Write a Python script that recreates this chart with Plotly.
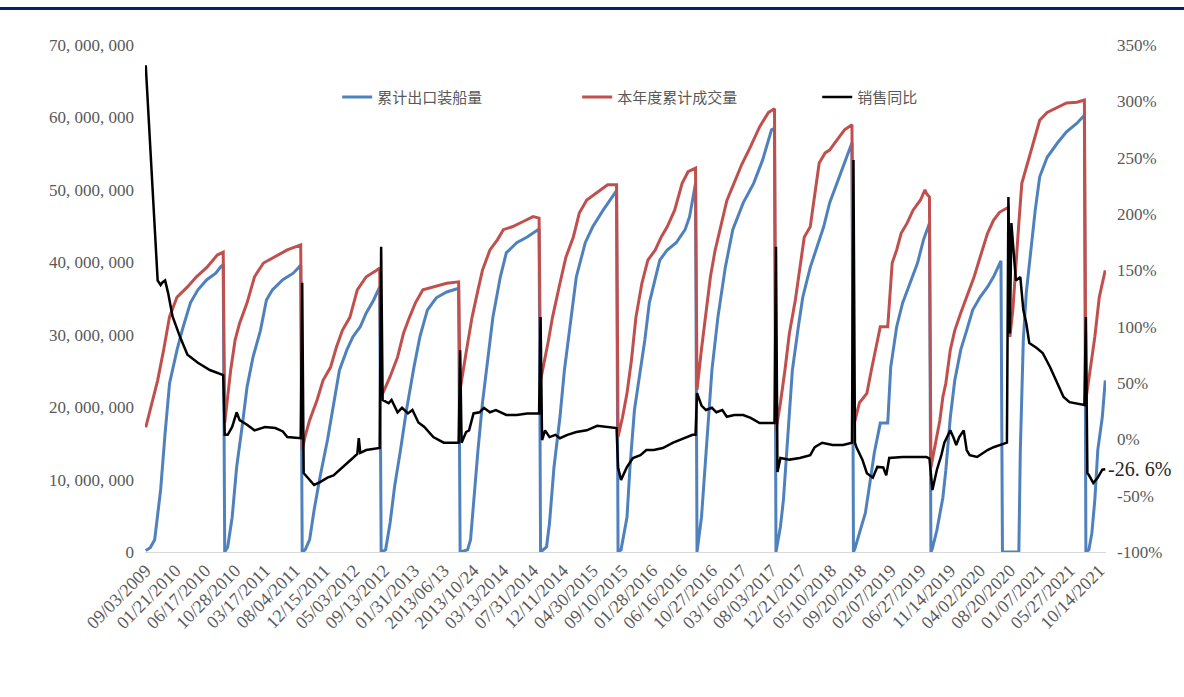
import plotly.graph_objects as go

# ---------------- data ----------------
x_labels = ["09/03/2009", "01/21/2010", "06/17/2010", "10/28/2010", "03/17/2011", "08/04/2011",
            "12/15/2011", "05/03/2012", "09/13/2012", "01/31/2013", "2013/06/13", "2013/10/24",
            "03/13/2014", "07/31/2014", "12/11/2014", "04/30/2015", "09/10/2015", "01/28/2016",
            "06/16/2016", "10/27/2016", "03/16/2017", "08/03/2017", "12/21/2017", "05/10/2018",
            "09/20/2018", "02/07/2019", "06/27/2019", "11/14/2019", "04/02/2020", "08/20/2020",
            "01/07/2021", "05/27/2021", "10/14/2021"]
label_pos = [i * 20 for i in range(len(x_labels))]   # category index of each labelled week

# 累计出口装船量 (million tonnes), sampled weeks (category index)
blue_week = [0, 3, 6, 10, 13, 16, 21, 25, 30, 35, 41, 47, 50, 52,
             53, 55, 58, 61, 65, 68, 72, 77, 81, 85, 92, 99, 104,
             105, 107, 110, 113, 117, 122, 126, 130, 135, 139, 144, 148, 153, 157,
             158, 161, 164, 167, 171, 175, 180, 184, 189, 195, 202, 210,
             211, 216, 218, 220, 223, 226, 230, 233, 238, 242, 249, 256, 264,
             265, 269, 271, 274, 278, 281, 285, 289, 295, 300, 307, 315, 316,
             317, 319, 323, 325, 328, 332, 335, 338, 342, 345, 350, 356, 362, 365, 369,
             370, 373, 377, 380, 384, 389, 394, 401, 408, 414, 420, 422,
             423, 424, 426, 428, 431, 434, 438, 441, 446, 450, 455, 459, 464, 468, 474,
             475, 476, 479, 483, 486, 489, 493, 498, 500, 504, 508, 513, 518, 522, 526,
             527, 528, 531, 535, 537, 540, 543, 547, 551, 555, 560, 565, 569, 573, 574,
             575, 586,
             587, 588, 589, 591, 594, 597, 600, 605, 612, 618, 625, 630,
             631, 633, 635, 637, 639, 642, 644]
blue_mt = [0.2, 0.6, 1.7, 8.6, 16.4, 23.3, 27.9, 31.0, 34.4, 36.2, 37.6, 38.5, 39.3, 39.7,
           0.0, 0.7, 4.8, 11.7, 17.8, 22.8, 26.9, 30.6, 34.8, 36.2, 37.6, 38.5, 39.6,
           0.0, 0.3, 1.7, 5.8, 10.4, 15.5, 20.6, 25.1, 27.9, 29.7, 31.1, 33.0, 34.8, 36.6,
           0.0, 0.3, 4.0, 9.0, 14.1, 19.6, 25.5, 29.7, 33.4, 35.1, 35.9, 36.4,
           0.0, 0.3, 1.7, 6.8, 14.1, 20.6, 26.9, 32.4, 38.0, 41.3, 42.7, 43.5, 44.6,
           0.0, 0.7, 4.0, 11.7, 18.6, 25.1, 31.6, 38.0, 42.7, 44.9, 47.2, 49.6, 49.9,
           0.0, 0.3, 4.8, 11.7, 19.6, 25.1, 29.3, 34.4, 38.0, 40.3, 41.7, 42.7, 44.5, 46.3, 50.9,
           0.0, 4.8, 16.4, 25.1, 32.4, 39.3, 44.5, 48.2, 50.9, 54.1, 58.3, 58.5,
           0.0, 1.0, 3.5, 7.2, 16.4, 25.1, 31.1, 35.2, 39.3, 41.7, 44.9, 48.2, 50.9, 53.2, 56.5,
           0.0, 0.5, 2.6, 5.4, 9.5, 13.7, 17.8, 17.8, 25.5, 31.1, 34.4, 37.1, 39.9, 43.1, 45.4,
           0.0, 0.5, 3.0, 7.5, 11.3, 18.6, 23.7, 27.9, 30.6, 33.4, 35.2, 36.6, 38.0, 39.9, 40.2,
           0.0, 0.0,
           14.1, 23.3, 29.3, 35.8, 41.7, 47.2, 51.8, 54.5, 56.5, 58.0, 59.2, 60.3,
           0.0, 0.3, 2.6, 7.2, 14.1, 18.6, 23.7]

# 本年度累计成交量 (million tonnes)
red_week = [0, 4, 8, 12, 16, 21, 28, 34, 41, 48, 52,
            53, 55, 57, 60, 63, 68, 73, 79, 86, 95, 104,
            105, 107, 110, 115, 119, 124, 128, 132, 137, 142, 148, 155, 157,
            158, 164, 169, 173, 177, 181, 186, 193, 202, 210,
            211, 215, 219, 223, 226, 231, 236, 240, 246, 253, 260, 264,
            265, 270, 273, 278, 282, 287, 291, 296, 303, 310, 316,
            317, 320, 323, 326, 329, 333, 337, 342, 346, 350, 355, 360, 364, 369,
            370, 373, 376, 379, 382, 386, 390, 395, 400, 406, 412, 418, 422,
            423, 426, 429, 432, 436, 439, 442, 446, 449, 452, 456, 459, 464, 469, 474,
            475, 479, 484, 487, 491, 493, 498, 501, 504, 507, 511, 515, 520, 523, 524, 526,
            527, 531, 533, 535, 537, 540, 543, 547, 551, 556, 560, 565, 569, 573, 579,
            580, 582, 584, 586, 588, 592, 596, 600, 605, 612, 618, 625, 630,
            631, 634, 637, 640, 644]
red_mt = [17.2, 20.6, 23.7, 27.9, 32.5, 35.2, 36.6, 38.0, 39.3, 41.0, 41.4,
          17.8, 21.5, 25.1, 29.3, 31.6, 34.4, 38.0, 39.9, 40.7, 41.7, 42.4,
          14.1, 16.0, 18.2, 21.0, 23.7, 25.5, 28.3, 30.6, 32.4, 36.2, 38.0, 38.9, 39.2,
          21.4, 24.2, 26.9, 30.2, 32.4, 34.4, 36.2, 36.6, 37.1, 37.3,
          22.4, 27.5, 32.4, 36.2, 38.9, 41.7, 43.1, 44.5, 44.9, 45.6, 46.3, 46.1,
          23.7, 28.9, 32.4, 37.1, 40.7, 43.5, 46.8, 48.6, 49.6, 50.7, 50.7,
          15.9, 18.6, 21.9, 26.5, 32.4, 37.1, 40.3, 41.7, 43.5, 44.9, 47.2, 50.9, 52.5, 53.0,
          22.4, 28.0, 33.0, 38.0, 41.5, 45.0, 48.5, 51.0, 53.5, 56.0, 58.7, 60.7, 61.2,
          16.8, 20.6, 25.1, 30.2, 34.8, 39.3, 43.5, 44.9, 49.6, 53.7, 55.1, 55.5, 56.9, 58.3, 59.0,
          17.3, 20.6, 21.9, 25.1, 28.9, 31.1, 31.1, 39.9, 41.7, 44.0, 45.4, 47.2, 48.6, 50.0, 49.5, 49.0,
          11.7, 16.4, 18.2, 21.4, 23.3, 27.9, 30.6, 33.0, 35.2, 38.0, 40.7, 44.0, 45.8, 46.9, 47.6,
          29.7, 33.5, 40.0, 45.4, 50.9, 53.7, 56.5, 59.6, 60.7, 61.4, 62.0, 62.1, 62.4,
          21.0, 25.1, 29.7, 35.2, 38.9]

# 销售同比 (%)
yoy_week = [0, 2, 4, 6, 8, 10, 11, 13, 15, 18, 23, 28, 35, 43, 52,
            53, 55, 58, 61, 63, 68, 73, 80, 87, 92, 95, 104,
            105, 106, 108, 113, 117, 122, 126, 130, 135, 139, 142, 143, 144, 148, 157,
            158, 159, 163, 165, 169, 172, 176, 179, 183, 187, 193, 200, 210,
            211, 212, 215, 217, 220, 224, 227, 231, 235, 242, 249, 256, 264,
            265, 266, 268, 271, 275, 278, 283, 289, 296, 303, 310, 316,
            317, 319, 323, 327, 332, 336, 341, 347, 354, 361, 367, 369,
            370, 373, 376, 380, 383, 387, 390, 395, 401, 406, 412, 422,
            423, 424, 426, 432, 439, 446, 449, 454, 461, 468, 474,
            475, 476, 477, 481, 484, 488, 491, 495, 497, 499, 508, 515, 524, 526,
            527, 528, 531, 534, 536, 540, 542, 544, 546, 549, 551, 553, 558, 565, 569, 573, 578,
            579, 580, 581, 584, 587, 589, 591, 593, 598, 602, 607, 612, 616, 620, 625, 630,
            631, 632, 633, 636, 639, 642, 644]
yoy_pct = [332, 286, 233, 183, 141, 137, 139, 141, 130, 109, 91, 75, 68, 61.5, 57,
           4, 4, 11, 24, 17, 13, 8, 11, 10, 7, 2, 1,
           139, -30, -33, -40.5, -38, -34, -32, -27, -21, -16.6, -13, 1, -12, -9.5, -7.7,
           171, 35, 32, 35, 24, 28, 23, 26, 15, 11, 2, -3, -3,
           79, -3, 6.5, 8, 23, 24, 28, 24, 26, 21.6, 21.6, 23, 23,
           108.6, -0.6, 8, 2, 4, 1, 4, 6.5, 8, 12, 11, 10,
           -25, -36, -24.5, -16.6, -14, -9.5, -9.5, -7.7, -3, 1, 4, 4,
           41, 30, 26, 28, 24, 26, 20, 21.6, 21.6, 19, 14.5, 14.5,
           171, -29, -16.6, -18, -16.6, -14, -7, -3, -5, -5, -3,
           248, -3, -7, -18, -30, -34, -24.5, -25, -32, -16.6, -15.7, -15.7, -15.7, -17,
           -30, -45, -27, -14, -3, 8, 2, -5, 2, 8, -9.5, -14, -15.7, -9.5, -7, -5, -3,
           215, 94, 192, 141, 144, 115, 103, 85.5, 81, 76.6, 64, 50, 37.6, 33, 32, 30.5,
           108.6, -30, -31.7, -38.8, -34, -27, -26.6]

left_ticks = [i * 10_000_000 for i in range(8)]
right_ticks = [-100, -50, 0, 50, 100, 150, 200, 250, 300, 350]

# ---------------- figure ----------------
fig = go.Figure()
fig.add_trace(go.Scatter(x=blue_week, y=[v * 1e6 for v in blue_mt], name="累计出口装船量",
                         mode="lines", line=dict(color="#4F81BD", width=3)))
fig.add_trace(go.Scatter(x=red_week, y=[v * 1e6 for v in red_mt], name="本年度累计成交量",
                         mode="lines", line=dict(color="#C0504D", width=3)))
fig.add_trace(go.Scatter(x=yoy_week, y=yoy_pct, name="销售同比", yaxis="y2",
                         mode="lines", line=dict(color="#000000", width=2.5)))

tick_font = dict(family="Liberation Serif", size=17, color="#595959")

fig.update_layout(
    width=1184, height=697,
    margin=dict(l=145, r=78, t=45, b=145),
    paper_bgcolor="white", plot_bgcolor="white",
    showlegend=True,
    legend=dict(orientation="h", x=0.2, y=0.897, xanchor="left", yanchor="middle",
                font=dict(family="Noto Sans CJK SC", size=15, color="#595959"),
                bgcolor="rgba(0,0,0,0)", entrywidth=195, traceorder="normal"),
    xaxis=dict(range=[-0.5, 644.5], tickmode="array", tickvals=label_pos, ticktext=x_labels,
               tickangle=-45, tickfont=dict(family="Liberation Serif", size=18, color="#595959"),
               showgrid=False, zeroline=False, showline=True, linecolor="#D9D9D9", linewidth=1,
               ticks=""),
    yaxis=dict(range=[0, 70_000_000], tickmode="array", tickvals=left_ticks,
               ticktext=[f"{v:,}".replace(",", ", ") for v in left_ticks],
               tickfont=tick_font, showgrid=False, zeroline=False, showline=False, ticks="",
               ticklabelstandoff=10),
    yaxis2=dict(range=[-100, 350], overlaying="y", side="right", tickmode="array",
                tickvals=right_ticks, ticktext=[f"{v}%" for v in right_ticks],
                tickfont=tick_font, showgrid=False, zeroline=False, showline=False, ticks="",
                ticklabelstandoff=10),
    shapes=[dict(type="line", xref="paper", yref="paper", x0=-0.16, x1=1.09,
                 y0=1.072, y1=1.072, line=dict(color="#0B1F6B", width=3))],
    annotations=[dict(x=yoy_week[-1], y=yoy_pct[-1], xref="x", yref="y2",
                      text=f"{yoy_pct[-1]}%".replace(".", ". "), showarrow=False,
                      xanchor="left", yanchor="middle", xshift=1,
                      font=dict(family="Liberation Serif", size=20, color="#262626"))],
)

fig.write_html("out.html", config={"displayModeBar": False},
               post_script="document.body.style.margin='0';")
